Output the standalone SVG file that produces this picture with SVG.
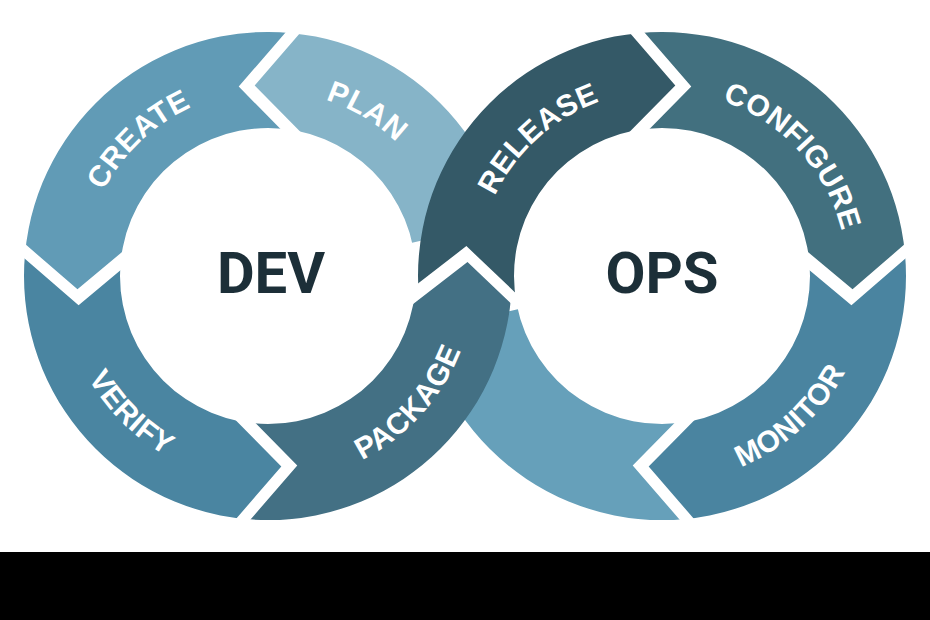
<svg xmlns="http://www.w3.org/2000/svg" width="930" height="620" viewBox="0 0 930 620">
  <style>
    .lbl { font-family: "Liberation Sans", Arial, sans-serif; font-weight: 700; font-size: 30px; fill: #ffffff; letter-spacing: 0.5px; }
    .hub { font-family: Roboto, "Liberation Sans", sans-serif; font-weight: 700; font-size: 58px; fill: #1c2f38; text-anchor: middle; }
  </style>
  <defs>
    <clipPath id="ringL"><path clip-rule="evenodd" d="M24,276 a244,244 0 1,0 488,0 a244,244 0 1,0 -488,0 Z M120,276 a148,148 0 1,0 296,0 a148,148 0 1,0 -296,0 Z"/></clipPath>
    <clipPath id="ringR"><path clip-rule="evenodd" d="M418,276 a244,244 0 1,0 488,0 a244,244 0 1,0 -488,0 Z M514,276 a148,148 0 1,0 296,0 a148,148 0 1,0 -296,0 Z"/></clipPath>
    <path id="tCreate" d="M87.82,319.26 A185.3,185.3 0 0 1 320.63,98.33"/>
    <path id="tPlan" d="M178.17,113.93 A185.3,185.3 0 0 1 453.27,279.23"/>
    <path id="tVerify" d="M68.34,222.5 A206.7,206.7 0 0 0 321.5,475.66"/>
    <path id="tPackage" d="M225.02,478.18 A206.7,206.7 0 0 0 464.58,212.13"/>
    <path id="tRelease" d="M480.75,314.53 A185.3,185.3 0 0 1 719.26,99.77"/>
    <path id="tConfigure" d="M621.89,95.09 A185.3,185.3 0 0 1 838.72,331.72"/>
    <path id="tMonitor" d="M599.84,473.13 A206.7,206.7 0 0 0 863.8,231.26"/>
  </defs>
  <rect width="930" height="620" fill="#ffffff"/>
  <rect x="0" y="552" width="930" height="68" fill="#000000"/>

  <g id="plan">
    <path clip-path="url(#ringL)" fill="#86b4c8" d="M540.82,213.01 A278,278 0 0 0 325.91,3.13 L254.68,85.47 L327.2,159.12 A126,126 0 0 1 384.92,249.01 Z"/>
    <text class="lbl"><textPath href="#tPlan" startOffset="50%" text-anchor="middle">PLAN</textPath></text>
  </g>
  <g id="return">
    <path clip-path="url(#ringR)" fill="#66a0ba" d="M632.72,465.41 L703.95,547.75 A278,278 0 0 1 389.18,338.99 L545.08,302.99 A126,126 0 0 0 705.24,391.76 Z"/>
  </g>
  <g id="create">
    <path clip-path="url(#ringL)" fill="#619bb6" d="M238.72,86.59 L309.95,4.25 A278,278 0 0 0 -4.87,218.09 L77.47,289.32 L148.63,229.81 A126,126 0 0 1 311.24,160.24 Z"/>
    <text class="lbl"><textPath href="#tCreate" startOffset="50%" text-anchor="middle">CREATE</textPath></text>
  </g>
  <g id="verify">
    <path clip-path="url(#ringL)" fill="#4a85a1" d="M78.59,305.28 L-3.75,234.05 A278,278 0 0 0 210.09,548.87 L281.32,466.53 L208.8,392.88 A126,126 0 0 1 149.75,245.77 Z"/>
    <text class="lbl"><textPath href="#tVerify" startOffset="50%" text-anchor="middle">VERIFY</textPath></text>
  </g>
  <g id="configure">
    <path clip-path="url(#ringR)" fill="#42707f" d="M691.28,86.59 L620.05,4.25 A278,278 0 0 1 934.87,218.09 L852.53,289.32 L781.37,229.81 A126,126 0 0 0 618.76,160.24 Z"/>
    <text class="lbl"><textPath href="#tConfigure" startOffset="50%" text-anchor="middle">CONFIGURE</textPath></text>
  </g>
  <g id="monitor">
    <path clip-path="url(#ringR)" fill="#4a84a0" d="M851.41,305.28 L933.75,234.05 A278,278 0 0 1 719.91,548.87 L648.68,466.53 L721.2,392.88 A126,126 0 0 0 780.25,245.77 Z"/>
    <text class="lbl"><textPath href="#tMonitor" startOffset="50%" text-anchor="middle">MONITOR</textPath></text>
  </g>
  <g id="package">
    <path clip-path="url(#ringL)" fill="#437084" d="M297.28,465.41 L226.05,547.75 A278,278 0 0 0 539.68,330.78 L467.51,262.05 L380.77,329.06 A126,126 0 0 1 224.76,391.76 Z"/>
    <text class="lbl"><textPath href="#tPackage" startOffset="50%" text-anchor="middle">PACKAGE</textPath></text>
  </g>
  <g id="release">
    <path clip-path="url(#ringR)" fill="#345967" d="M466.39,246.09 L379.65,313.1 A280,280 0 0 1 604.09,3.13 L675.32,85.47 L602.8,159.12 A128,128 0 0 0 538.56,314.82 Z"/>
    <text class="lbl"><textPath href="#tRelease" startOffset="50%" text-anchor="middle">RELEASE</textPath></text>
  </g>
  <g id="connectors"/>
  <g id="dev"><text class="hub" x="271" y="293">DEV</text></g>
  <g id="ops"><text class="hub" x="662" y="293">OPS</text></g>
</svg>
